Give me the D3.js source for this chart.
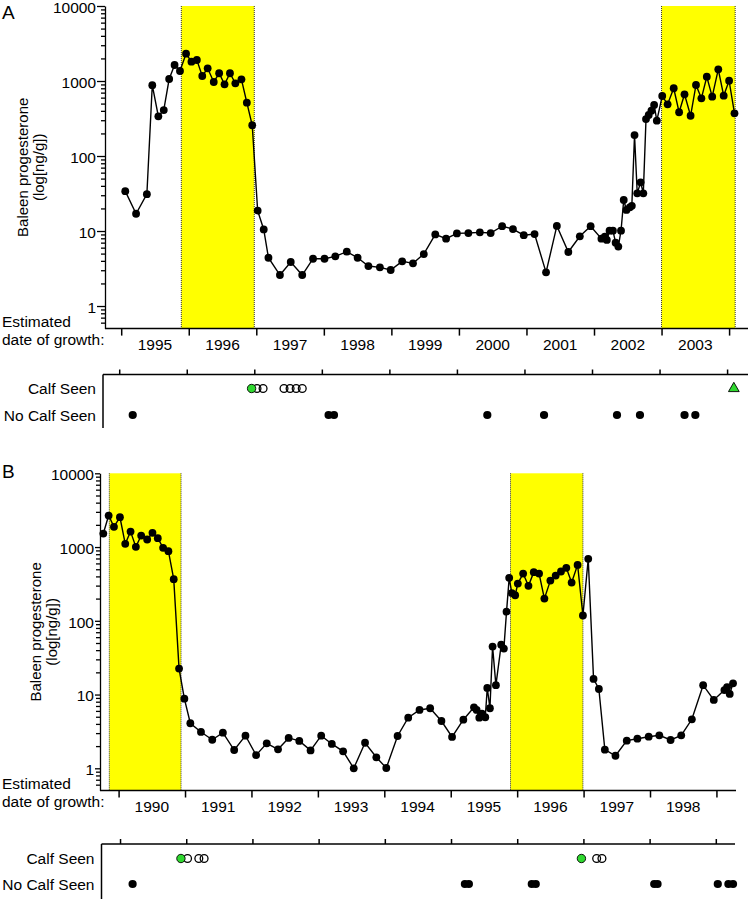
<!DOCTYPE html>
<html><head><meta charset="utf-8">
<script src="https://cdn.jsdelivr.net/npm/d3@7"></script>
<style>body{margin:0;background:#fff} text{font-family:"Liberation Sans",Arial,Helvetica,sans-serif;fill:#000}</style>
</head><body><svg id="c" width="750" height="899"></svg>
<script>
// ---------- DATA ----------
const aDates=[1995.06,1995.22,1995.38,1995.46,1995.55,1995.63,1995.71,1995.79,1995.87,1995.96,1996.04,1996.12,1996.20,1996.28,1996.37,1996.45,1996.53,1996.61,1996.69,1996.78,1996.86,1996.94,1997.02,1997.11,1997.18,1997.35,1997.51,1997.68,1997.84,1998.01,1998.17,1998.34,1998.50,1998.66,1998.83,1998.99,1999.16,1999.32,1999.48,1999.65,1999.81,1999.97,2000.14,2000.31,2000.47,2000.64,2000.80,2000.96,2001.12,2001.29,2001.45,2001.62,2001.79,2001.95,2002.11,2002.16,2002.19,2002.23,2002.28,2002.32,2002.36,2002.40,2002.44,2002.48,2002.53,2002.56,2002.60,2002.64,2002.69,2002.73,2002.77,2002.81,2002.85,2002.89,2002.93,2003.01,2003.09,2003.18,2003.26,2003.34,2003.43,2003.51,2003.59,2003.67,2003.75,2003.84,2003.92,2004.00,2004.08];
const aValues=[34,17,31,880,338,410,1063,1634,1359,2312,1808,1905,1166,1476,970,1268,903,1268,931,1054,514,257,18.7,10.5,4.4,2.59,3.86,2.59,4.27,4.27,4.6,5.3,4.4,3.41,3.28,3.02,3.94,3.71,4.93,9.0,7.9,9.3,9.4,9.6,9.4,11.6,10.6,8.8,9.1,2.81,11.7,5.25,8.5,11.6,7.9,8.4,7.6,10.1,10.1,7.0,6.2,10.1,25.9,19.1,20.7,21.7,190,31.8,44.6,31.8,311,352,402,479,296,631,489,800,383,665,344,885,588,1141,618,1432,637,1009,371];
const bDates=[1989.77,1989.85,1989.93,1990.02,1990.10,1990.18,1990.26,1990.34,1990.43,1990.51,1990.59,1990.67,1990.75,1990.83,1990.91,1990.99,1991.08,1991.24,1991.41,1991.57,1991.74,1991.91,1992.07,1992.23,1992.40,1992.56,1992.72,1992.89,1993.05,1993.21,1993.38,1993.54,1993.71,1993.88,1994.03,1994.20,1994.36,1994.53,1994.69,1994.86,1995.02,1995.19,1995.35,1995.39,1995.43,1995.47,1995.52,1995.55,1995.59,1995.63,1995.68,1995.76,1995.80,1995.84,1995.88,1995.92,1995.97,1996.01,1996.09,1996.17,1996.25,1996.33,1996.41,1996.50,1996.58,1996.66,1996.74,1996.82,1996.91,1996.99,1997.07,1997.15,1997.23,1997.32,1997.48,1997.65,1997.81,1997.98,1998.14,1998.31,1998.47,1998.63,1998.80,1998.96,1999.12,1999.16,1999.20,1999.25];
const bValues=[1525,2675,1880,2545,1105,1622,1006,1432,1265,1560,1320,975,880,367,22.5,8.8,4.08,3.11,2.44,3.04,1.77,2.77,1.51,2.18,1.81,2.58,2.35,1.75,2.77,2.14,1.70,1.0,2.22,1.41,1.01,2.74,4.86,6.18,6.52,4.38,2.66,4.56,6.72,6.18,4.86,5.5,4.92,12.3,6.52,44.7,13.4,47.5,42,133,382,237,222,320,437,298,456,437,200,351,410,466,522,330,573,118,692,16.3,11.9,1.79,1.48,2.37,2.52,2.68,2.8,2.42,2.8,4.62,13.4,8.45,11.5,12.6,10.2,14.2];
const aBands=[[1995.89,1996.97],[2003.00,2004.09]];
const bBands=[[1989.86,1990.94],[1995.90,1996.99]];
const aYearStarts=[1995,1996,1997,1998,1999,2000,2001,2002,2003,2004];
const bYearStarts=[1990,1991,1992,1993,1994,1995,1996,1997,1998,1999];
const aYearLabels=["1995","1996","1997","1998","1999","2000","2001","2002","2003"];
const bYearLabels=["1990","1991","1992","1993","1994","1995","1996","1997","1998"];
const yMajor=[1,10,100,1000,10000];
const yMinor=[0.6,0.7,0.8,0.9,2,3,4,5,6,7,8,9,20,30,40,50,60,70,80,90,200,300,400,500,600,700,800,900,2000,3000,4000,5000,6000,7000,8000,9000];
const aCalfGreen=[1996.96];
const aCalfOpen=[1997.04,1997.13,1997.44,1997.53,1997.62,1997.71];
const aCalfTriangle=[2004.10];
const aNoCalf=[1995.20,1998.10,1998.18,2000.45,2001.29,2002.37,2002.71,2003.37,2003.53];
const bCalfGreen=[1990.92,1996.97];
const bCalfOpen=[1991.02,1991.19,1991.27,1997.20,1997.28];
const bCalfTriangle=[];
const bNoCalf=[1990.19,1995.21,1995.27,1996.22,1996.28,1998.07,1998.12,1999.03,1999.19,1999.26];
const rowLabels=["Calf Seen","No Calf Seen"];
const yTitle=["Baleen progesterone","(log[ng/g])"];
const xTitle=["Estimated","date of growth:"];

// ---------- DRAW ----------
const svg=d3.select("#c");
const GREEN="#2fd82f";

function panel(o){
  const g=svg.append("g");
  const x=d3.scaleLinear().domain(o.xDom).range([o.left,o.right]);
  const y=d3.scaleLog().domain([0.5,10000]).range([o.bottom,o.top]);
  // bands
  o.bands.forEach(b=>{
    g.append("rect").attr("x",x(b[0])).attr("y",o.top).attr("width",x(b[1])-x(b[0])).attr("height",o.bottom-o.top).attr("fill","#ffff00");
    [b[0],b[1]].forEach(v=>g.append("line").attr("x1",x(v)).attr("x2",x(v)).attr("y1",o.top).attr("y2",o.bottom)
      .attr("stroke","#333").attr("stroke-width",1).attr("stroke-dasharray","1,1"));
  });
  // y axis
  const ya=g.append("g").attr("transform",`translate(${o.left},0)`)
    .call(d3.axisLeft(y).tickValues(yMajor).tickSize(o.tickL).tickSizeOuter(0).tickPadding(o.pad).tickFormat(d3.format("d")));
  ya.selectAll("text").attr("font-size",15.5).attr("dy","0.4em").style("font-family","Liberation Sans, Arial, sans-serif").attr("fill","#000");
  const ym=g.append("g").attr("transform",`translate(${o.left},0)`)
    .call(d3.axisLeft(y).tickValues(yMinor).tickSize(4).tickSizeOuter(0).tickFormat(""));
  ym.select(".domain").remove();
  g.selectAll(".tick line, .domain").attr("stroke","#000").attr("stroke-width",1.3);
  // x axis
  const xa=g.append("g").attr("transform",`translate(0,${o.bottom})`)
    .call(d3.axisBottom(x).tickValues(o.years).tickSize(7).tickSizeOuter(0).tickFormat(""));
  xa.select(".domain").attr("d",`M${o.left},0H${o.axisEnd}`);
  xa.selectAll("line,path").attr("stroke","#000").attr("stroke-width",1.5);
  o.labels.forEach((l,i)=>g.append("text").attr("x",x(o.years[i]+0.5)).attr("y",o.bottom+21).attr("text-anchor","middle").attr("font-size",15.5).text(l));
  // line + points
  const pts=o.dates.map((d,i)=>[d,o.values[i]]);
  g.append("path").datum(pts).attr("fill","none").attr("stroke","#000").attr("stroke-width",1.4)
    .attr("d",d3.line().x(d=>x(d[0])).y(d=>y(d[1])));
  g.selectAll("circle.pt").data(pts).enter().append("circle").attr("class","pt")
    .attr("cx",d=>x(d[0])).attr("cy",d=>y(d[1])).attr("r",3.9).attr("fill","#000");
  // titles
  g.append("text").attr("x",2).attr("y",o.letterY).attr("font-size",19).text(o.letter);
  xTitle.forEach((t,i)=>g.append("text").attr("x",2).attr("y",o.bottom-2+i*18).attr("font-size",15.5).text(t));
  const cy=(o.top+o.bottom)/2;
  yTitle.forEach((t,i)=>g.append("text").attr("transform",`translate(${o.ytx[i]},${cy}) rotate(-90)`)
    .attr("text-anchor","middle").attr("font-size",15).text(t));
  // sightings
  const sx=d3.scaleLinear().domain(o.xDom).range([o.sLeft,o.sRight]);
  const sa=g.append("g").attr("transform",`translate(0,${o.sAxisY})`)
    .call(d3.axisTop(sx).tickValues(o.years).tickSize(5).tickSizeOuter(0).tickFormat(""));
  sa.select(".domain").attr("d",`M${o.sLeft},0H${o.sEnd}`);
  sa.selectAll("line,path").attr("stroke","#000").attr("stroke-width",1.5);
  g.append("line").attr("x1",o.sLeft).attr("x2",o.sLeft).attr("y1",o.sAxisY).attr("y2",o.sAxisBottom).attr("stroke","#000").attr("stroke-width",1.5);
  rowLabels.forEach((t,i)=>g.append("text").attr("x",o.rowLabelX).attr("y",o.rows[i]+5.5).attr("text-anchor","end").attr("font-size",15.5).text(t));
  o.noCalf.forEach(d=>g.append("circle").attr("cx",sx(d)).attr("cy",o.rows[1]).attr("r",4.1).attr("fill","#000"));
  o.calfOpen.forEach(d=>g.append("circle").attr("cx",sx(d)).attr("cy",o.rows[0]).attr("r",3.9).attr("fill","none").attr("stroke","#000").attr("stroke-width",1.3));
  o.calfGreen.forEach(d=>g.append("circle").attr("cx",sx(d)).attr("cy",o.rows[0]).attr("r",4.2).attr("fill",GREEN).attr("stroke","#000").attr("stroke-width",0.9));
  o.calfTri.forEach(d=>g.append("path").attr("transform",`translate(${sx(d)},${o.rows[0]})`)
    .attr("d",d3.symbol(d3.symbolTriangle,50)()).attr("fill",GREEN).attr("stroke","#000").attr("stroke-width",0.9));
}

panel({letter:"A",letterY:19,dates:aDates,values:aValues,bands:aBands,xDom:[1994.76,2004.28],left:105,right:748,axisEnd:748,
  top:6,bottom:328.6,tickL:8,pad:1,years:aYearStarts,labels:aYearLabels,ytx:[28,44],
  sLeft:103,sRight:746,sEnd:748,sAxisY:374.5,sAxisBottom:428,rows:[388.5,415],rowLabelX:96,
  noCalf:aNoCalf,calfOpen:aCalfOpen,calfGreen:aCalfGreen,calfTri:aCalfTriangle});
panel({letter:"B",letterY:478,dates:bDates,values:bValues,bands:bBands,xDom:[1989.72,1999.29],left:100,right:735.7,axisEnd:736,
  top:473.3,bottom:790.5,tickL:5,pad:1,years:bYearStarts,labels:bYearLabels,ytx:[41,57],
  sLeft:101.5,sRight:735,sEnd:735,sAxisY:844,sAxisBottom:899,rows:[858.5,884],rowLabelX:94.5,
  noCalf:bNoCalf,calfOpen:bCalfOpen,calfGreen:bCalfGreen,calfTri:bCalfTriangle});
</script></body></html>
